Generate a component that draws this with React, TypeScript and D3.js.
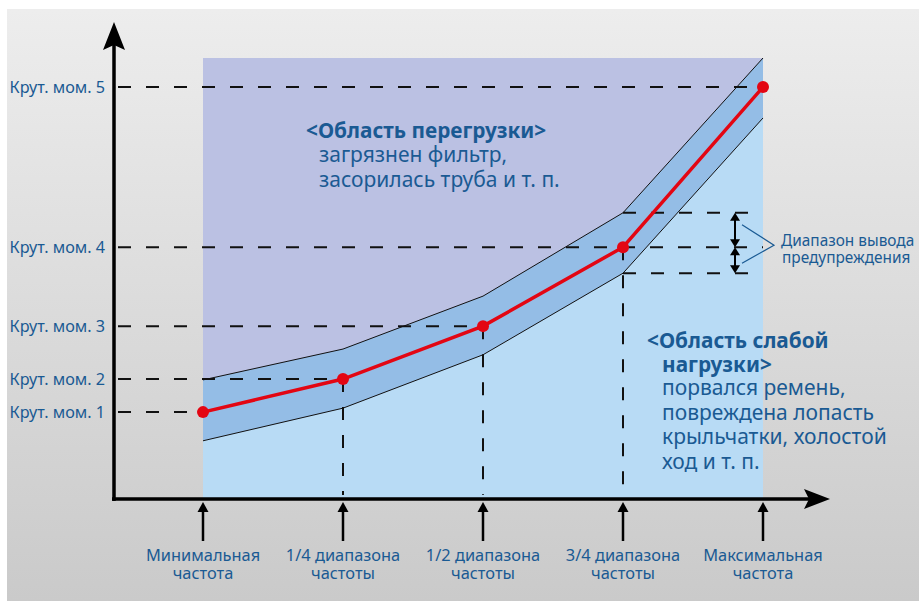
import React from 'react';
import * as d3 from 'd3';

// frequency positions (fraction of the range) and their labels
const freqs = [0, 0.25, 0.5, 0.75, 1];
const freqLabels = [
  ['Минимальная', 'частота'],
  ['1/4 диапазона', 'частоты'],
  ['1/2 диапазона', 'частоты'],
  ['3/4 диапазона', 'частоты'],
  ['Максимальная', 'частота'],
];

// torque (arbitrary units, 0..100)
const torque = [19.7, 27.2, 39.2, 57.1, 93.4];
const upperBand = [27.0, 34.0, 46.0, 64.9, 100];
const lowerBand = [13.2, 20.6, 32.7, 51.2, 86.4];
const torqueLabels = ['Крут. мом. 1', 'Крут. мом. 2', 'Крут. мом. 3', 'Крут. мом. 4', 'Крут. мом. 5'];

const overloadText = ['загрязнен фильтр,', 'засорилась труба и т. п.'];
const underloadText = ['порвался ремень,', 'повреждена лопасть', 'крыльчатки, холостой', 'ход и т. п.'];

const W = 919;
const H = 601;
const BLUE = '#1a5a93';
const FONT = '"Noto Sans", "Open Sans", sans-serif';

export default function App() {
  const x = d3.scaleLinear().domain([0, 1]).range([203, 763]);
  const y = d3.scaleLinear().domain([0, 100]).range([499, 58]);
  const axisX = 114;
  const axisY = 499;

  const idx = d3.range(freqs.length);
  const line = d3.line<number>().x(i => x(freqs[i])).y(i => y(torque[i]));
  const upLine = d3.line<number>().x(i => x(freqs[i])).y(i => y(upperBand[i]));
  const lowLine = d3.line<number>().x(i => x(freqs[i])).y(i => y(lowerBand[i]));
  const bandArea = d3.area<number>()
    .x(i => x(freqs[i]))
    .y0(i => y(lowerBand[i]))
    .y1(i => y(upperBand[i]));
  const lowArea = d3.area<number>()
    .x(i => x(freqs[i]))
    .y0(y(0))
    .y1(i => y(lowerBand[i]));

  const dash = { stroke: '#111', strokeWidth: 2, strokeDasharray: '13 15', fill: 'none' };

  const x3 = x(freqs[3]);
  const xMax = x(1);
  const wy1 = y(upperBand[3]);
  const wy2 = y(torque[3]);
  const wy3 = y(lowerBand[3]);
  const wx = 735;

  const arrowV = (xx: number, y0: number, y1: number, key: string) => (
    <g key={key}>
      <line x1={xx} x2={xx} y1={y0 + 4} y2={y1 - 4} stroke="#000" strokeWidth={2} />
      <path d={`M${xx},${y0} L${xx + 5},${y0 + 8} L${xx - 5},${y0 + 8} Z`} fill="#000" />
      <path d={`M${xx},${y1} L${xx + 5},${y1 - 8} L${xx - 5},${y1 - 8} Z`} fill="#000" />
    </g>
  );

  return (
    <svg width={W} height={H} style={{ position: 'absolute', left: 0, top: 0, fontFamily: FONT }}>
      <defs>
        <linearGradient id="bg" x1="0" y1="0" x2="0" y2="1">
          <stop offset="0" stopColor="#ededed" />
          <stop offset="1" stopColor="#cacaca" />
        </linearGradient>
      </defs>
      <rect x={0} y={0} width={W} height={H} fill="#fff" />
      <rect x={7} y={9} width={W - 7} height={H - 9} fill="url(#bg)" />

      {/* regions */}
      <rect x={x(0)} y={y(100)} width={x(1) - x(0)} height={y(0) - y(100)} fill="#bbc1e3" />
      <path d={bandArea(idx) ?? ''} fill="#94bde6" />
      <path d={lowArea(idx) ?? ''} fill="#b8dbf5" />
      <path d={upLine(idx) ?? ''} fill="none" stroke="#111" strokeWidth={1} />
      <path d={lowLine(idx) ?? ''} fill="none" stroke="#111" strokeWidth={1} />

      {/* guide lines */}
      {torque.map((t, i) => (
        <line key={'h' + i} x1={axisX + 4} x2={i === 3 ? xMax : x(freqs[i])} y1={y(t)} y2={y(t)} style={dash} />
      ))}
      {torque.slice(1, 4).map((t, i) => (
        <line key={'v' + i} x1={x(freqs[i + 1])} x2={x(freqs[i + 1])} y1={y(t)} y2={axisY - 4} style={dash} />
      ))}
      <line x1={x3} x2={xMax} y1={wy1} y2={wy1} style={dash} />
      <line x1={x3} x2={xMax} y1={wy3} y2={wy3} style={dash} />

      {/* warning range */}
      {arrowV(wx, wy1, wy2, 'a1')}
      {arrowV(wx, wy2, wy3, 'a2')}
      <path d={`M${wx + 7},${wy1 + 12} L774,${wy2 - 2} L${wx + 7},${wy3 - 10}`} fill="none" stroke={BLUE} strokeWidth={1.2} />
      <text x={781} y={246} fontSize={15.4} fill={BLUE}>Диапазон вывода</text>
      <text x={782} y={263} fontSize={15.4} fill={BLUE}>предупреждения</text>

      {/* torque line */}
      <path d={line(idx) ?? ''} fill="none" stroke="#e30613" strokeWidth={3.5} />
      {idx.map(i => (
        <circle key={'c' + i} cx={x(freqs[i])} cy={y(torque[i])} r={6} fill="#e30613" />
      ))}

      {/* axes */}
      <line x1={axisX} x2={axisX} y1={axisY + 2} y2={40} stroke="#000" strokeWidth={3.5} />
      <path d={`M${axisX},22 L${axisX + 11},50 L${axisX},45 L${axisX - 11},50 Z`} fill="#000" />
      <line x1={axisX - 2} x2={812} y1={axisY} y2={axisY} stroke="#000" strokeWidth={3.5} />
      <path d={`M830,${axisY} L804,${axisY + 10} L809,${axisY} L804,${axisY - 10} Z`} fill="#000" />

      {torqueLabels.map((l, i) => (
        <text key={'yl' + i} x={105} y={y(torque[i])} dy="0.35em" textAnchor="end" fontSize={16.2} fill={BLUE}>{l}</text>
      ))}

      {freqLabels.map((l, i) => {
        const xx = x(freqs[i]);
        return (
          <g key={'xl' + i}>
            <line x1={xx} x2={xx} y1={axisY + 8} y2={541} stroke="#000" strokeWidth={2.5} />
            <path d={`M${xx},${axisY + 3} L${xx + 5.5},${axisY + 13} L${xx - 5.5},${axisY + 13} Z`} fill="#000" />
            <text x={xx} y={561} textAnchor="middle" fontSize={16.4} fill={BLUE}>{l[0]}</text>
            <text x={xx} y={579} textAnchor="middle" fontSize={16.4} fill={BLUE}>{l[1]}</text>
          </g>
        );
      })}

      {/* region notes */}
      <text x={306} y={138} fontSize={20.8} fontWeight="bold" fill={BLUE}>&lt;Область перегрузки&gt;</text>
      {overloadText.map((t, i) => (
        <text key={'o' + i} x={319} y={162 + i * 24.5} fontSize={21} fill={BLUE}>{t}</text>
      ))}
      <text x={647} y={348} fontSize={20.8} fontWeight="bold" fill={BLUE}>&lt;Область слабой</text>
      <text x={662} y={372} fontSize={20.8} fontWeight="bold" fill={BLUE}>нагрузки&gt;</text>
      {underloadText.map((t, i) => (
        <text key={'u' + i} x={662} y={395 + i * 24.5} fontSize={21} fill={BLUE}>{t}</text>
      ))}
    </svg>
  );
}
